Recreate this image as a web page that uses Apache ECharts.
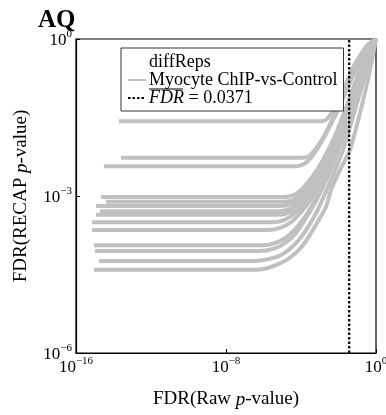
<!DOCTYPE html>
<html><head><meta charset="utf-8">
<script src="https://cdn.jsdelivr.net/npm/echarts@6/dist/echarts.min.js"></script>
<style>html,body{margin:0;padding:0;background:#fff;overflow:hidden}#c{position:absolute;left:0;top:0;width:386px;height:415px}</style>
</head><body><div id="c"></div>
<script>
// Data: log10 exponents [log10(FDR raw), log10(FDR RECAP)]
const c01 = [[-13.71,-1.57],[-2.88,-1.57],[-2.61,-1.53],[-2.40,-1.43],[-2.19,-1.30],[-1.92,-1.11],[-1.60,-0.86],[-1.23,-0.55],[-0.80,-0.29],[-0.43,-0.11],[0,0]];
const c02 = [[-13.60,-2.27],[-3.95,-2.27],[-3.57,-2.24],[-3.31,-2.14],[-3.04,-2.01],[-2.72,-1.82],[-2.40,-1.59],[-1.97,-1.26],[-1.49,-0.88],[-1.01,-0.52],[-0.53,-0.21],[0,0]];
const c03 = [[-14.51,-2.43],[-4.27,-2.43],[-3.84,-2.39],[-3.52,-2.29],[-3.20,-2.14],[-2.88,-1.95],[-2.51,-1.70],[-2.08,-1.40],[-1.60,-1.01],[-1.12,-0.63],[-0.64,-0.31],[0,0]];
const c04 = [[-14.67,-3.02],[-4.91,-3.02],[-4.37,-2.98],[-3.95,-2.87],[-3.52,-2.69],[-3.09,-2.47],[-2.61,-2.16],[-2.13,-1.80],[-1.60,-1.32],[-1.12,-0.84],[-0.64,-0.42],[-0.27,-0.17],[0,0]];
const c05 = [[-14.40,-3.11],[-5.01,-3.11],[-4.43,-3.08],[-4.00,-2.96],[-3.57,-2.79],[-3.15,-2.56],[-2.67,-2.25],[-2.19,-1.89],[-1.65,-1.41],[-1.17,-0.94],[-0.69,-0.50],[-0.32,-0.21],[0,0]];
const c06 = [[-14.93,-3.19],[-5.12,-3.19],[-4.53,-3.15],[-4.05,-3.04],[-3.63,-2.87],[-3.20,-2.64],[-2.72,-2.33],[-2.24,-1.99],[-1.71,-1.51],[-1.23,-1.01],[-0.75,-0.55],[-0.32,-0.21],[0,0]];
const c07 = [[-14.72,-3.29],[-5.23,-3.29],[-4.64,-3.25],[-4.16,-3.13],[-3.68,-2.96],[-3.25,-2.73],[-2.77,-2.43],[-2.29,-2.08],[-1.76,-1.62],[-1.28,-1.13],[-0.80,-0.63],[-0.37,-0.25],[0,0]];
const c08 = [[-14.93,-3.36],[-5.39,-3.36],[-4.75,-3.33],[-4.21,-3.21],[-3.79,-3.04],[-3.31,-2.79],[-2.83,-2.50],[-2.35,-2.16],[-1.81,-1.70],[-1.33,-1.20],[-0.85,-0.71],[-0.43,-0.29],[0,0]];
const c09 = [[-15.15,-3.50],[-5.55,-3.50],[-4.91,-3.46],[-4.37,-3.34],[-3.89,-3.17],[-3.41,-2.92],[-2.93,-2.62],[-2.45,-2.27],[-1.92,-1.83],[-1.39,-1.32],[-0.91,-0.78],[-0.43,-0.32],[0,0]];
const c10 = [[-15.15,-3.65],[-5.76,-3.65],[-5.12,-3.61],[-4.53,-3.50],[-4.00,-3.31],[-3.52,-3.08],[-3.04,-2.77],[-2.56,-2.41],[-2.03,-1.97],[-1.49,-1.47],[-1.01,-0.94],[-0.53,-0.44],[0,0]];
const c11 = [[-15.04,-3.94],[-6.08,-3.94],[-5.39,-3.90],[-4.75,-3.78],[-4.16,-3.57],[-3.63,-3.31],[-3.15,-3.00],[-2.67,-2.66],[-2.13,-2.22],[-1.60,-1.70],[-1.12,-1.17],[-0.64,-0.63],[-0.27,-0.25],[0,0]];
const c12 = [[-14.99,-4.05],[-6.19,-4.05],[-5.49,-4.01],[-4.85,-3.90],[-4.27,-3.71],[-3.73,-3.42],[-3.25,-3.13],[-2.77,-2.79],[-2.24,-2.35],[-1.71,-1.83],[-1.23,-1.32],[-0.75,-0.78],[-0.32,-0.31],[0,0]];
const c13 = [[-14.77,-4.24],[-6.45,-4.24],[-5.65,-4.20],[-4.96,-4.11],[-4.32,-3.92],[-3.73,-3.65],[-3.20,-3.33],[-2.77,-3.00],[-2.29,-2.60],[-1.76,-2.12],[-1.28,-1.55],[-0.80,-0.97],[-0.37,-0.44],[0,0]];
const c14 = [[-15.04,-4.41],[-6.72,-4.41],[-6.08,-4.40],[-5.33,-4.32],[-4.59,-4.18],[-3.89,-3.94],[-3.20,-3.55],[-2.67,-3.21],[-2.40,-2.89],[-1.92,-2.50],[-1.39,-2.12],[-0.91,-1.49],[-0.43,-0.78],[0,0]];
const curves = [c01,c02,c03,c04,c05,c06,c07,c08,c09,c10,c11,c12,c13,c14];

const fdrThreshold = 0.0371;
const xRange = [1e-16, 1];
const yRange = [1e-6, 1];
const seriesName = 'Myocyte ChIP-vs-Control';
const groupName = 'diffReps';
const fdrName = 'FDR = 0.0371';

const FONT = 'Liberation Serif';
const chart = echarts.init(document.getElementById('c'), null, {renderer: 'canvas', width: 386, height: 415});

function expLabel(v) {
  const e = Math.round(Math.log10(v));
  const s = e < 0 ? '\u2212' + (-e) : String(e);
  return '{b|10}{s|' + s + '}';
}
const labelRich = {
  b: {fontFamily: FONT, fontSize: 17, color: '#000', lineHeight: 20, verticalAlign: 'bottom'},
  s: {fontFamily: FONT, fontSize: 11, color: '#000', lineHeight: 20, verticalAlign: 'top'}
};

const series = curves.map(c => ({
  name: seriesName,
  type: 'line',
  data: c.map(p => [Math.pow(10, p[0]), Math.pow(10, p[1])]),
  showSymbol: false,
  symbol: 'none',
  smooth: 0.25,
  lineStyle: {color: '#c0c0c0', width: 4},
  itemStyle: {color: '#c0c0c0'},
  z: 2,
  silent: true
}));
series.unshift({
  name: groupName, type: 'line', data: [], symbol: 'none',
  lineStyle: {opacity: 0, color: '#fff'}, itemStyle: {opacity: 0}
});
series.push({
  name: fdrName, type: 'line', symbol: 'none',
  data: [[fdrThreshold, yRange[0]], [fdrThreshold, yRange[1]]],
  lineStyle: {color: '#000', width: 2.2, type: [2.5, 2]},
  itemStyle: {color: '#000'},
  z: 5, silent: true
});

chart.setOption({
  animation: false,
  backgroundColor: '#fff',
  title: {
    text: 'AQ', left: 33, top: 3,
    textStyle: {fontFamily: FONT, fontWeight: 'bold', fontSize: 25, color: '#000'}
  },
  grid: {left: 76, top: 39, right: 10, bottom: 62, outerBoundsMode: 'none', containLabel: false,
    show: true, borderColor: '#000', borderWidth: 1.2, backgroundColor: 'transparent'},
  legend: {
    orient: 'vertical', left: 121, top: 48,
    data: [groupName, seriesName, fdrName],
    itemWidth: 18, itemHeight: 12, itemGap: 0,
    padding: [5, 6, 4, 6],
    backgroundColor: '#fff', borderColor: '#333', borderWidth: 1, borderRadius: 0,
    selectedMode: false,
    itemStyle: {opacity: 0},
    textStyle: {fontFamily: FONT, fontSize: 18, color: '#000', padding: [0, 0, 0, -2],
      rich: {it: {fontFamily: FONT, fontSize: 18, fontStyle: 'italic', color: '#000'}, n: {fontFamily: FONT, fontSize: 18, color: '#000'}}},
    formatter: function (name) {
      if (name === fdrName) return '{it|FDR}{n| = 0.0371}';
      return name;
    }
  },
  graphic: [{
    type: 'line', silent: true, z: 100,
    shape: {x1: 149, y1: 89, x2: 183, y2: 89},
    style: {stroke: '#000', lineWidth: 1}
  }],
  xAxis: {
    type: 'log', logBase: 10, min: xRange[0], max: xRange[1], interval: 8,
    name: '{n|FDR(Raw }{i|p}{n|-value)}', nameLocation: 'middle', nameGap: 37,
    nameTextStyle: {rich: {n: {fontFamily: FONT, fontSize: 19, color: '#000'}, i: {fontFamily: FONT, fontSize: 19, fontStyle: 'italic', color: '#000'}}},
    axisLine: {show: true, lineStyle: {color: '#000', width: 1.2}},
    axisTick: {show: true, inside: true, length: 4, lineStyle: {color: '#000'}},
    minorTick: {show: false},
    splitLine: {show: false},
    axisLabel: {formatter: expLabel, rich: labelRich, margin: 3}
  },
  yAxis: {
    type: 'log', logBase: 10, min: yRange[0], max: yRange[1], interval: 3,
    name: '{n|FDR(RECAP }{i|p}{n|-value)}', nameLocation: 'middle', nameGap: 45, nameRotate: 90,
    nameTextStyle: {rich: {n: {fontFamily: FONT, fontSize: 19, color: '#000'}, i: {fontFamily: FONT, fontSize: 19, fontStyle: 'italic', color: '#000'}}},
    axisLine: {show: true, lineStyle: {color: '#000', width: 1.2}},
    axisTick: {show: true, inside: true, length: 4, lineStyle: {color: '#000'}},
    splitLine: {show: false},
    axisLabel: {formatter: expLabel, rich: labelRich, margin: 4}
  },
  series: series
});
</script>
</body></html>
